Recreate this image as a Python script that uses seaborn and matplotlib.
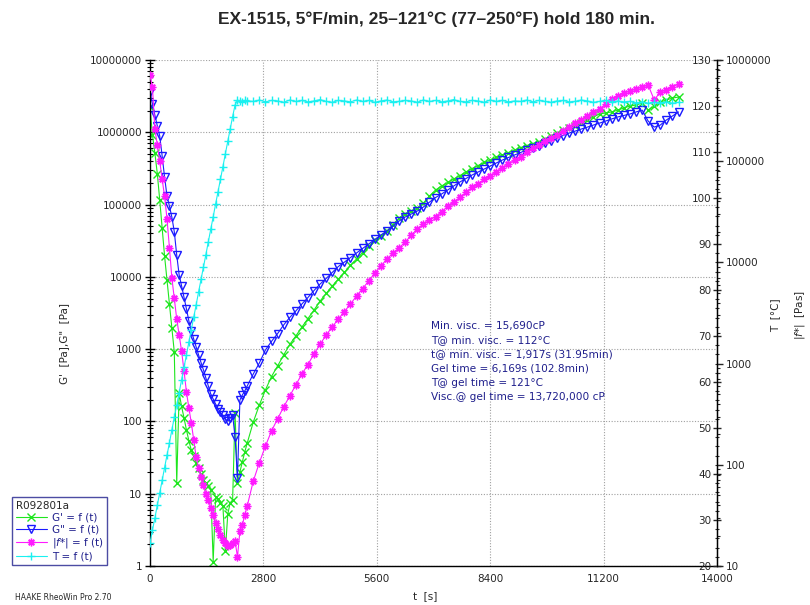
import numpy as np
import matplotlib
matplotlib.use("Agg")
import matplotlib.pyplot as plt
from matplotlib.ticker import MultipleLocator, LogLocator, FuncFormatter, NullFormatter
import seaborn as sns

# Data =================================================================================================================

# measurement times [s]
time_s = [0, 60, 120, 180, 240, 300, 360, 420, 480, 540, 600, 660, 720, 780, 840, 900, 960, 1020, 1080, 1140,
          1200, 1260, 1320, 1380, 1440, 1500, 1560, 1620, 1680, 1740, 1800, 1860, 1920, 1980, 2040, 2100, 2160,
          2220, 2280, 2340, 2400,
          2550, 2700, 2850, 3000, 3150, 3300, 3450, 3600, 3750, 3900, 4050, 4200, 4350, 4500, 4650, 4800, 4950,
          5100, 5250, 5400, 5550, 5700, 5850, 6000, 6150, 6300, 6450, 6600, 6750, 6900, 7050, 7200, 7350, 7500,
          7650, 7800, 7950, 8100, 8250, 8400, 8550, 8700, 8850, 9000, 9150, 9300, 9450, 9600, 9750, 9900, 10050,
          10200, 10350, 10500, 10650, 10800, 10950, 11100, 11250, 11400, 11550, 11700, 11850, 12000, 12150, 12300,
          12450, 12600, 12750, 12900, 13050]

# G' [Pa]
g_storage = [2.23e6, 9.2e5, 5.2e5, 2.69e5, 1.16e5, 4.74e4, 1.94e4, 9.0e3, 4.2e3, 1.96e3, 912, 14, 247, 161, 112,
             76, 54, 40, 33, 27, 22.7, 18.7, 15.5, 14.1, 12.8, 11.3, 1.15, 9.0, 8.4, 7.4, 6.8, 1.6, 5.2, 7.5, 8.2,
             130, 14, 20, 27.5, 37.8, 50,
             98, 169, 272, 418, 584, 829, 1160, 1520, 2020, 2650, 3480, 4630, 5890, 7470, 9330, 1.15e4, 1.44e4,
             1.77e4, 2.17e4, 2.67e4, 3.23e4, 3.73e4, 4.31e4, 5.30e4, 6.51e4, 7.52e4, 8.14e4, 8.96e4, 1.05e5,
             1.31e5, 1.59e5, 1.81e5, 2.02e5, 2.26e5, 2.52e5, 2.82e5, 3.15e5, 3.47e5, 3.82e5, 4.13e5, 4.48e5,
             4.85e5, 5.25e5, 5.68e5, 6.15e5, 6.56e5, 6.99e5, 7.45e5, 8.07e5, 8.87e5, 9.77e5, 1.06e6, 1.15e6,
             1.22e6, 1.34e6, 1.48e6, 1.63e6, 1.79e6, 1.85e6, 1.91e6, 2.03e6, 2.17e6, 2.31e6, 2.38e6, 2.54e6,
             2.03e6, 2.31e6, 2.62e6, 2.79e6, 2.98e6, 3.07e6]

# G" [Pa]
g_loss = [3.6e6, 2.5e6, 1.73e6, 1.23e6, 8.9e5, 4.7e5, 2.4e5, 1.31e5, 9.5e4, 6.7e4, 4.2e4, 2.0e4, 1.06e4, 7.5e3,
          5.2e3, 3.6e3, 2450, 1780, 1380, 1070, 830, 653, 515, 399, 309, 240, 204, 174, 149, 133, 121, 108, 101,
          111, 123, 61, 16.5, 198, 232, 264, 309,
          453, 643, 973, 1280, 1640, 2160, 2740, 3370, 4210, 5180, 6470, 7960, 9500, 1.15e4, 1.39e4, 1.60e4,
          1.85e4, 2.14e4, 2.47e4, 2.85e4, 3.29e4, 3.79e4, 4.31e4, 5.05e4, 5.92e4, 6.73e4, 7.40e4, 8.14e4,
          9.25e4, 1.08e5, 1.25e5, 1.40e5, 1.59e5, 1.81e5, 2.05e5, 2.29e5, 2.56e5, 2.82e5, 3.10e5, 3.41e5,
          3.76e5, 4.13e5, 4.48e5, 4.85e5, 5.25e5, 5.69e5, 6.06e5, 6.56e5, 7.10e5, 7.69e5, 8.33e5, 9.02e5,
          9.77e5, 1.04e6, 1.11e6, 1.18e6, 1.26e6, 1.34e6, 1.43e6, 1.53e6, 1.63e6, 1.71e6, 1.79e6, 1.91e6,
          2.03e6, 1.43e6, 1.18e6, 1.26e6, 1.48e6, 1.68e6, 1.91e6]

# |eta*| [Pas]
eta = [7.1e5, 5.4e5, 2.08e5, 1.45e5, 1.0e5, 6.67e4, 4.48e4, 2.69e4, 1.39e4, 7.0e3, 4.4e3, 2760, 1920, 1330, 845,
       524, 364, 259, 176, 119, 93, 76.6, 63, 52, 44.9, 37.8, 31.9, 26.9, 23.2, 20.2, 18.1, 16.7, 15.7, 16.1,
       16.9, 17.7, 12.3, 22.2, 25.4, 31.9, 39.2,
       69, 105, 153, 216, 284, 373, 478, 615, 789, 979, 1250, 1550, 1920, 2300, 2760, 3270, 3880, 4660, 5520,
       6550, 7850, 9200, 1.08e4, 1.24e4, 1.39e4, 1.59e4, 1.85e4, 2.14e4, 2.39e4, 2.62e4, 2.84e4, 3.18e4,
       3.57e4, 3.95e4, 4.38e4, 4.91e4, 5.50e4, 6.02e4, 6.60e4, 7.14e4, 7.82e4, 8.57e4, 9.38e4, 1.03e5, 1.11e5,
       1.22e5, 1.34e5, 1.45e5, 1.57e5, 1.68e5, 1.82e5, 1.99e5, 2.18e5, 2.36e5, 2.55e5, 2.80e5, 3.03e5, 3.28e5,
       3.68e5, 4.12e5, 4.41e5, 4.72e5, 4.94e5, 5.17e5, 5.41e5, 5.66e5, 4.03e5, 4.83e5, 5.06e5, 5.41e5, 5.79e5]

# T [°C]
temp_c = [25.0, 27.8, 30.4, 33.2, 35.9, 38.6, 41.4, 44.1, 46.8, 49.6, 52.3, 55.0, 57.7, 60.5, 63.2, 65.9, 68.7,
          71.4, 74.1, 76.8, 79.6, 82.3, 85.0, 87.7, 90.5, 93.2, 95.9, 98.7, 101.4, 104.1, 106.8, 109.6, 112.3,
          115.0, 117.7, 120.2, 121.3, 121.0, 120.8, 121.2, 121.1,
          121.0, 121.3, 120.9, 121.2, 121.1, 120.8, 121.3, 121.0, 121.2, 120.9,
          121.1, 121.4, 121.0, 120.8, 121.2, 121.1, 120.9, 121.3, 121.0, 121.2,
          120.8, 121.1, 121.3, 120.9, 121.0, 121.2, 121.1, 120.8, 121.3, 121.0,
          121.2, 120.9, 121.1, 121.4, 121.0, 120.9, 121.2, 121.1, 120.8, 121.3,
          121.0, 121.2, 120.9, 121.1, 121.0, 121.3, 120.9, 121.2, 121.0, 120.8,
          121.1, 121.2, 120.9, 121.0, 121.3, 121.1, 120.8, 121.0, 121.2, 120.9,
          121.1, 120.9, 121.0, 120.7, 120.9, 120.6, 120.8, 120.7, 120.9, 120.6, 120.8]

legend_labels = ["G' = f (t)", 'G" = f (t)', "|$f$*| = f (t)", "T = f (t)"]
info_lines = ["Min. visc. = 15,690cP",
              "T@ min. visc. = 112°C",
              "t@ min. visc. = 1,917s (31.95min)",
              "Gel time = 6,169s (102.8min)",
              "T@ gel time = 121°C",
              "Visc.@ gel time = 13,720,000 cP"]

C_GREEN = "#1ee61e"
C_BLUE = "#1a1aff"
C_MAGENTA = "#ff1aff"
C_CYAN = "#1af0f0"
NAVY = "#1f1f8c"

# Plot =================================================================================================================

sns.set_style("white")
plt.rcParams["font.family"] = ["DejaVu Sans"]

fig = plt.figure(figsize=(8.1, 6.05), dpi=100)
ax = fig.add_axes([150/810, 39/605, 567/810, 506/605])
ax_v = ax.twinx()
ax_T = ax.twinx()

common = dict(estimator=None, sort=False, legend=False, linewidth=0.8, markersize=5.5, markeredgewidth=1)

#### G' and G" on the left axis
sns.lineplot(x=time_s, y=g_storage, ax=ax, color=C_GREEN, marker="x", markeredgecolor=C_GREEN, **common)
h_gs = ax.lines[-1]
sns.lineplot(x=time_s, y=g_loss, ax=ax, color=C_BLUE, marker="v", markeredgecolor=C_BLUE,
             markerfacecolor="none", **common)
h_gl = ax.lines[-1]

#### complex viscosity on the outer right axis
sns.lineplot(x=time_s, y=eta, ax=ax_v, color=C_MAGENTA, marker=(8, 2, 0), markeredgecolor=C_MAGENTA, **common)
h_eta = ax_v.lines[-1]

#### temperature
sns.lineplot(x=time_s, y=temp_c, ax=ax_T, color=C_CYAN, marker="+", markeredgecolor=C_CYAN, **common)
h_T = ax_T.lines[-1]

#### left axis settings
ax.set_xlim(0, 14000)
ax.set_yscale("log")
ax.set_ylim(1, 1e7)
ax.xaxis.set_major_locator(MultipleLocator(2800))
ax.xaxis.set_minor_locator(MultipleLocator(1400))
ax.yaxis.set_major_locator(LogLocator(base=10, numticks=20))
ax.yaxis.set_minor_locator(LogLocator(base=10, subs=np.arange(2, 10), numticks=100))
ax.yaxis.set_major_formatter(FuncFormatter(lambda v, p: f"{v:.0f}"))
ax.yaxis.set_minor_formatter(NullFormatter())
ax.grid(True, which="major", linestyle=(0, (1, 1.5)), color="#a0a0a0", linewidth=0.8)
ax.tick_params(which="major", direction="inout", length=7, width=1, labelsize=7.5, color="black", pad=2)
ax.tick_params(which="minor", direction="inout", length=4, width=0.8, color="black")
ax.spines["top"].set_visible(False)
ax.spines["right"].set_visible(False)
for s in ["left", "bottom"]:
    ax.spines[s].set_color("black")
    ax.spines[s].set_linewidth(1)
ax.set_xlabel("t  [s]", fontsize=7.5)
ax.xaxis.set_label_coords(0.485, -0.05)
ax.set_ylabel("")

#### viscosity axis
ax_v.set_yscale("log")
ax_v.set_ylim(10, 1e6)
ax_v.yaxis.set_major_locator(LogLocator(base=10, numticks=20))
ax_v.yaxis.set_minor_locator(LogLocator(base=10, subs=np.arange(2, 10), numticks=100))
ax_v.yaxis.set_major_formatter(FuncFormatter(lambda v, p: f"{v:.0f}"))
ax_v.yaxis.set_minor_formatter(NullFormatter())
ax_v.tick_params(which="major", direction="out", length=4, width=1, labelsize=7.5, pad=2)
ax_v.tick_params(which="minor", direction="out", length=2, width=0.8)
for s in ["left", "top", "bottom"]:
    ax_v.spines[s].set_visible(False)
ax_v.spines["right"].set_color("black")
ax_v.spines["right"].set_linewidth(1)
ax_v.set_ylabel("")

#### temperature axis, labels inside the right spine
ax_T.set_ylim(20, 130)
ax_T.yaxis.set_major_locator(MultipleLocator(10))
ax_T.yaxis.set_minor_locator(MultipleLocator(2))
ax_T.yaxis.tick_left()
ax_T.spines["left"].set_position(("axes", 1.0))
ax_T.spines["left"].set_visible(True)
ax_T.spines["left"].set_color("black")
for s in ["right", "top", "bottom"]:
    ax_T.spines[s].set_visible(False)
ax_T.tick_params(which="major", direction="inout", length=6, width=1, labelsize=7.5, pad=1)
ax_T.tick_params(which="minor", direction="inout", length=3, width=0.8)
ax_T.set_ylabel("")

#### axis titles
fig.text(64/810, 1 - 343/605, 'G\'  [Pa],G"  [Pa]', rotation=90, ha="center", va="center", fontsize=7.5)
fig.text(775/810, 1 - 315/605, "T  [°C]", rotation=90, ha="center", va="center", fontsize=7.5)
fig.text(800/810, 1 - 315/605, "|$f$*|  [Pas]", rotation=90, ha="center", va="center", fontsize=7.5)

#### title and footer
fig.text(437/810, 1 - 19/605, "EX-1515, 5°F/min, 25–121°C (77–250°F) hold 180 min.", ha="center", va="center",
         fontsize=12.5, fontweight="bold", family=["Liberation Sans", "DejaVu Sans"])
fig.text(15/810, 1 - 597/605, "HAAKE RheoWin Pro 2.70", ha="left", va="center", fontsize=5.5)

#### results box
for i, line in enumerate(info_lines):
    fig.text(431/810, 1 - (325.7 + 14.35*i)/605, line, ha="left", va="center", fontsize=7.6, color=NAVY)

#### legend
leg = fig.legend([h_gs, h_gl, h_eta, h_T], legend_labels, title="R092801a", loc="lower left",
                 bbox_to_anchor=(12/810, 40/605), fontsize=7.5, title_fontsize=7.5, frameon=True,
                 fancybox=False, edgecolor=NAVY, handlelength=3.0, handletextpad=0.5, borderpad=0.35,
                 labelspacing=0.15, borderaxespad=0, alignment="left")
leg.get_frame().set_linewidth(1)
for t in leg.get_texts():
    t.set_color(NAVY)

fig.savefig("out.png", dpi=100)
